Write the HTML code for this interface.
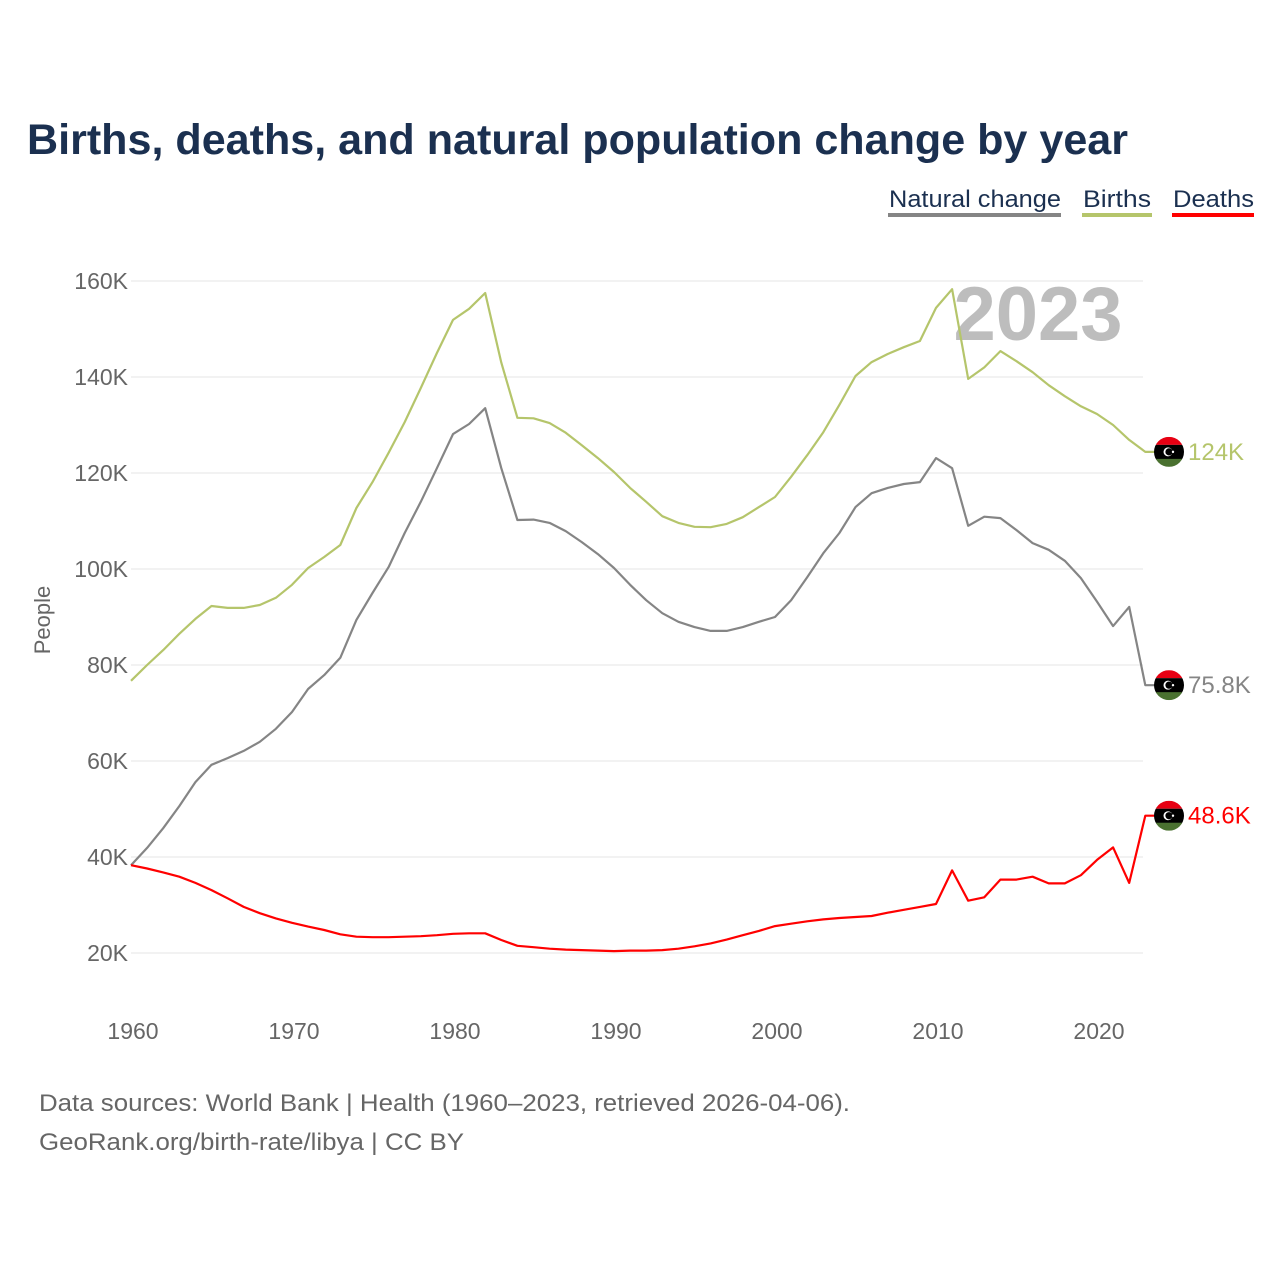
<!DOCTYPE html>
<html><head><meta charset="utf-8"><style>
body{margin:0;background:#fff;width:1280px;height:1280px;overflow:hidden;font-family:"Liberation Sans",sans-serif}
svg{display:block}
</style></head><body>
<svg id="chart" width="1280" height="1280" viewBox="0 0 1280 1280" xmlns="http://www.w3.org/2000/svg">
<text x="27" y="154" font-size="43" font-weight="bold" fill="#1b3050" textLength="1101" lengthAdjust="spacingAndGlyphs">Births, deaths, and natural population change by year</text>
<g font-size="24" fill="#1b3050">
<g><text x="889" y="207" textLength="172" lengthAdjust="spacingAndGlyphs">Natural change</text><rect x="888" y="213" width="173" height="4" fill="#858585"/></g>
<g><text x="1083" y="207" textLength="68" lengthAdjust="spacingAndGlyphs">Births</text><rect x="1082" y="213" width="70" height="4" fill="#b5c56b"/></g>
<g><text x="1173" y="207" textLength="81" lengthAdjust="spacingAndGlyphs">Deaths</text><rect x="1172" y="213" width="82" height="4" fill="#ff0000"/></g>
</g>
<text x="1038" y="340" text-anchor="middle" font-size="76" font-weight="bold" fill="#bdbdbd">2023</text>
<g id="grid"></g><g id="yticks"></g><g id="xticks"></g><g id="lines"></g><g id="ends"></g>
<text transform="translate(50,620) rotate(-90)" text-anchor="middle" font-size="22" fill="#666">People</text>
<text x="39" y="1111" font-size="24" fill="#666" textLength="811" lengthAdjust="spacingAndGlyphs">Data sources: World Bank | Health (1960–2023, retrieved 2026-04-06).</text>
<text x="39" y="1150" font-size="24" fill="#666" textLength="425" lengthAdjust="spacingAndGlyphs">GeoRank.org/birth-rate/libya | CC BY</text>
</svg>
<script>
const years=[];for(let y=1960;y<=2023;y++)years.push(y);
const births=[76.7,80.0,83.1,86.5,89.6,92.3,91.9,91.9,92.5,94,96.7,100.2,102.5,105,112.7,118.1,124.2,130.6,137.7,145,151.9,154.2,157.5,143,131.5,131.4,130.4,128.4,125.8,123.1,120.2,116.9,114,111,109.6,108.8,108.7,109.4,110.8,112.9,115,119.2,123.7,128.5,134.2,140.2,143.1,144.8,146.2,147.5,154.4,158.3,139.6,142,145.4,143.3,141,138.3,136,133.9,132.3,130,126.9,124.4];
const deaths=[38.3,37.6,36.8,35.9,34.6,33.1,31.4,29.6,28.3,27.2,26.3,25.5,24.8,23.9,23.4,23.3,23.3,23.4,23.5,23.7,24,24.1,24.1,22.7,21.5,21.2,20.9,20.7,20.6,20.5,20.4,20.5,20.5,20.6,20.9,21.4,22,22.8,23.7,24.6,25.6,26.1,26.6,27,27.3,27.5,27.7,28.4,29,29.6,30.2,37.2,30.9,31.6,35.3,35.3,35.9,34.5,34.5,36.2,39.4,42,34.6,48.6];
const natural=[38.3,41.9,46,50.6,55.6,59.2,60.6,62.1,64,66.7,70.2,75,77.9,81.5,89.4,95,100.4,107.5,114,121,128.1,130.2,133.5,121,110.2,110.3,109.6,107.9,105.6,103.1,100.2,96.7,93.5,90.8,89,87.9,87.1,87.1,87.9,89,90,93.5,98.3,103.3,107.5,112.9,115.8,116.9,117.7,118.1,123.1,121,109,110.9,110.6,108.1,105.4,104,101.7,98.1,93.2,88.1,92.1,75.8];
const yTicks=[20,40,60,80,100,120,140,160];
const xTicks=[1960,1970,1980,1990,2000,2010,2020];
const endLabels=["124K","75.8K","48.6K"];
const NS="http://www.w3.org/2000/svg";
const X=y=>131+(y-1960)*16.1;
const Y=v=>953-(v-20)*4.8;
function mk(tag,attrs,parent){const e=document.createElementNS(NS,tag);for(const k in attrs)e.setAttribute(k,attrs[k]);parent.appendChild(e);return e;}
const grid=document.getElementById('grid'),yt=document.getElementById('yticks'),xt=document.getElementById('xticks'),lines=document.getElementById('lines'),ends=document.getElementById('ends');
yTicks.forEach(v=>{
 const l=mk('line',{x1:131,x2:1143,y1:Y(v),y2:Y(v),stroke:'#e6e6e6','stroke-width':1},grid);
 
 
 const t=mk('text',{x:128,y:Y(v)+8,'text-anchor':'end','font-size':23,fill:'#666'},yt);
 
 
 t.textContent=v+'K';
});
xTicks.forEach(y=>{
 const t=mk('text',{x:X(y)+2,y:1039,'text-anchor':'middle','font-size':23,fill:'#666'},xt);
 
 
 t.textContent=y;
});
const series=[[natural,'#858585','natural-change'],[births,'#b5c56b','births'],[deaths,'#ff0000','deaths']];
series.forEach(([d,c,n])=>{
 const last=d[d.length-1];
 const pts=d.map((v,i)=>X(years[i]).toFixed(1)+','+Y(v).toFixed(1)).join(' ')+' '+(X(2023)+10)+','+Y(last).toFixed(1);
 const p=mk('polyline',{points:pts,fill:'none',stroke:c,'stroke-width':2.2,'stroke-linejoin':'round'},lines);
 
 
});
const endSeries=[[births,'#b5c56b','births',0],[natural,'#858585','natural-change',1],[deaths,'#ff0000','deaths',2]];
endSeries.forEach(([d,c,n,k])=>{
 const cy=Y(d[d.length-1]),cx=1169;
 const g=mk('g',{},ends);
 
 
 const cp=mk('clipPath',{id:'cp'+k},g);mk('circle',{cx:cx,cy:cy,r:15},cp);
 const gg=mk('g',{'clip-path':'url(#cp'+k+')'},g);
 mk('rect',{x:cx-15,y:cy-15,width:30,height:8,fill:'#e70013'},gg);
 mk('rect',{x:cx-15,y:cy-7,width:30,height:15,fill:'#000'},gg);
 mk('rect',{x:cx-15,y:cy+7,width:30,height:8,fill:'#4a7130'},gg);
 mk('circle',{cx:cx-1,cy:cy,r:4.5,fill:'#fff'},g);
 mk('circle',{cx:cx,cy:cy,r:3.6,fill:'#000'},g);
 mk('circle',{cx:cx+4,cy:cy,r:1.2,fill:'#fff'},g);
 const t=mk('text',{x:1188,y:cy+8,'font-size':24,fill:c},ends);
 
 
 t.textContent=endLabels[k];
});
</script>
</body></html>
